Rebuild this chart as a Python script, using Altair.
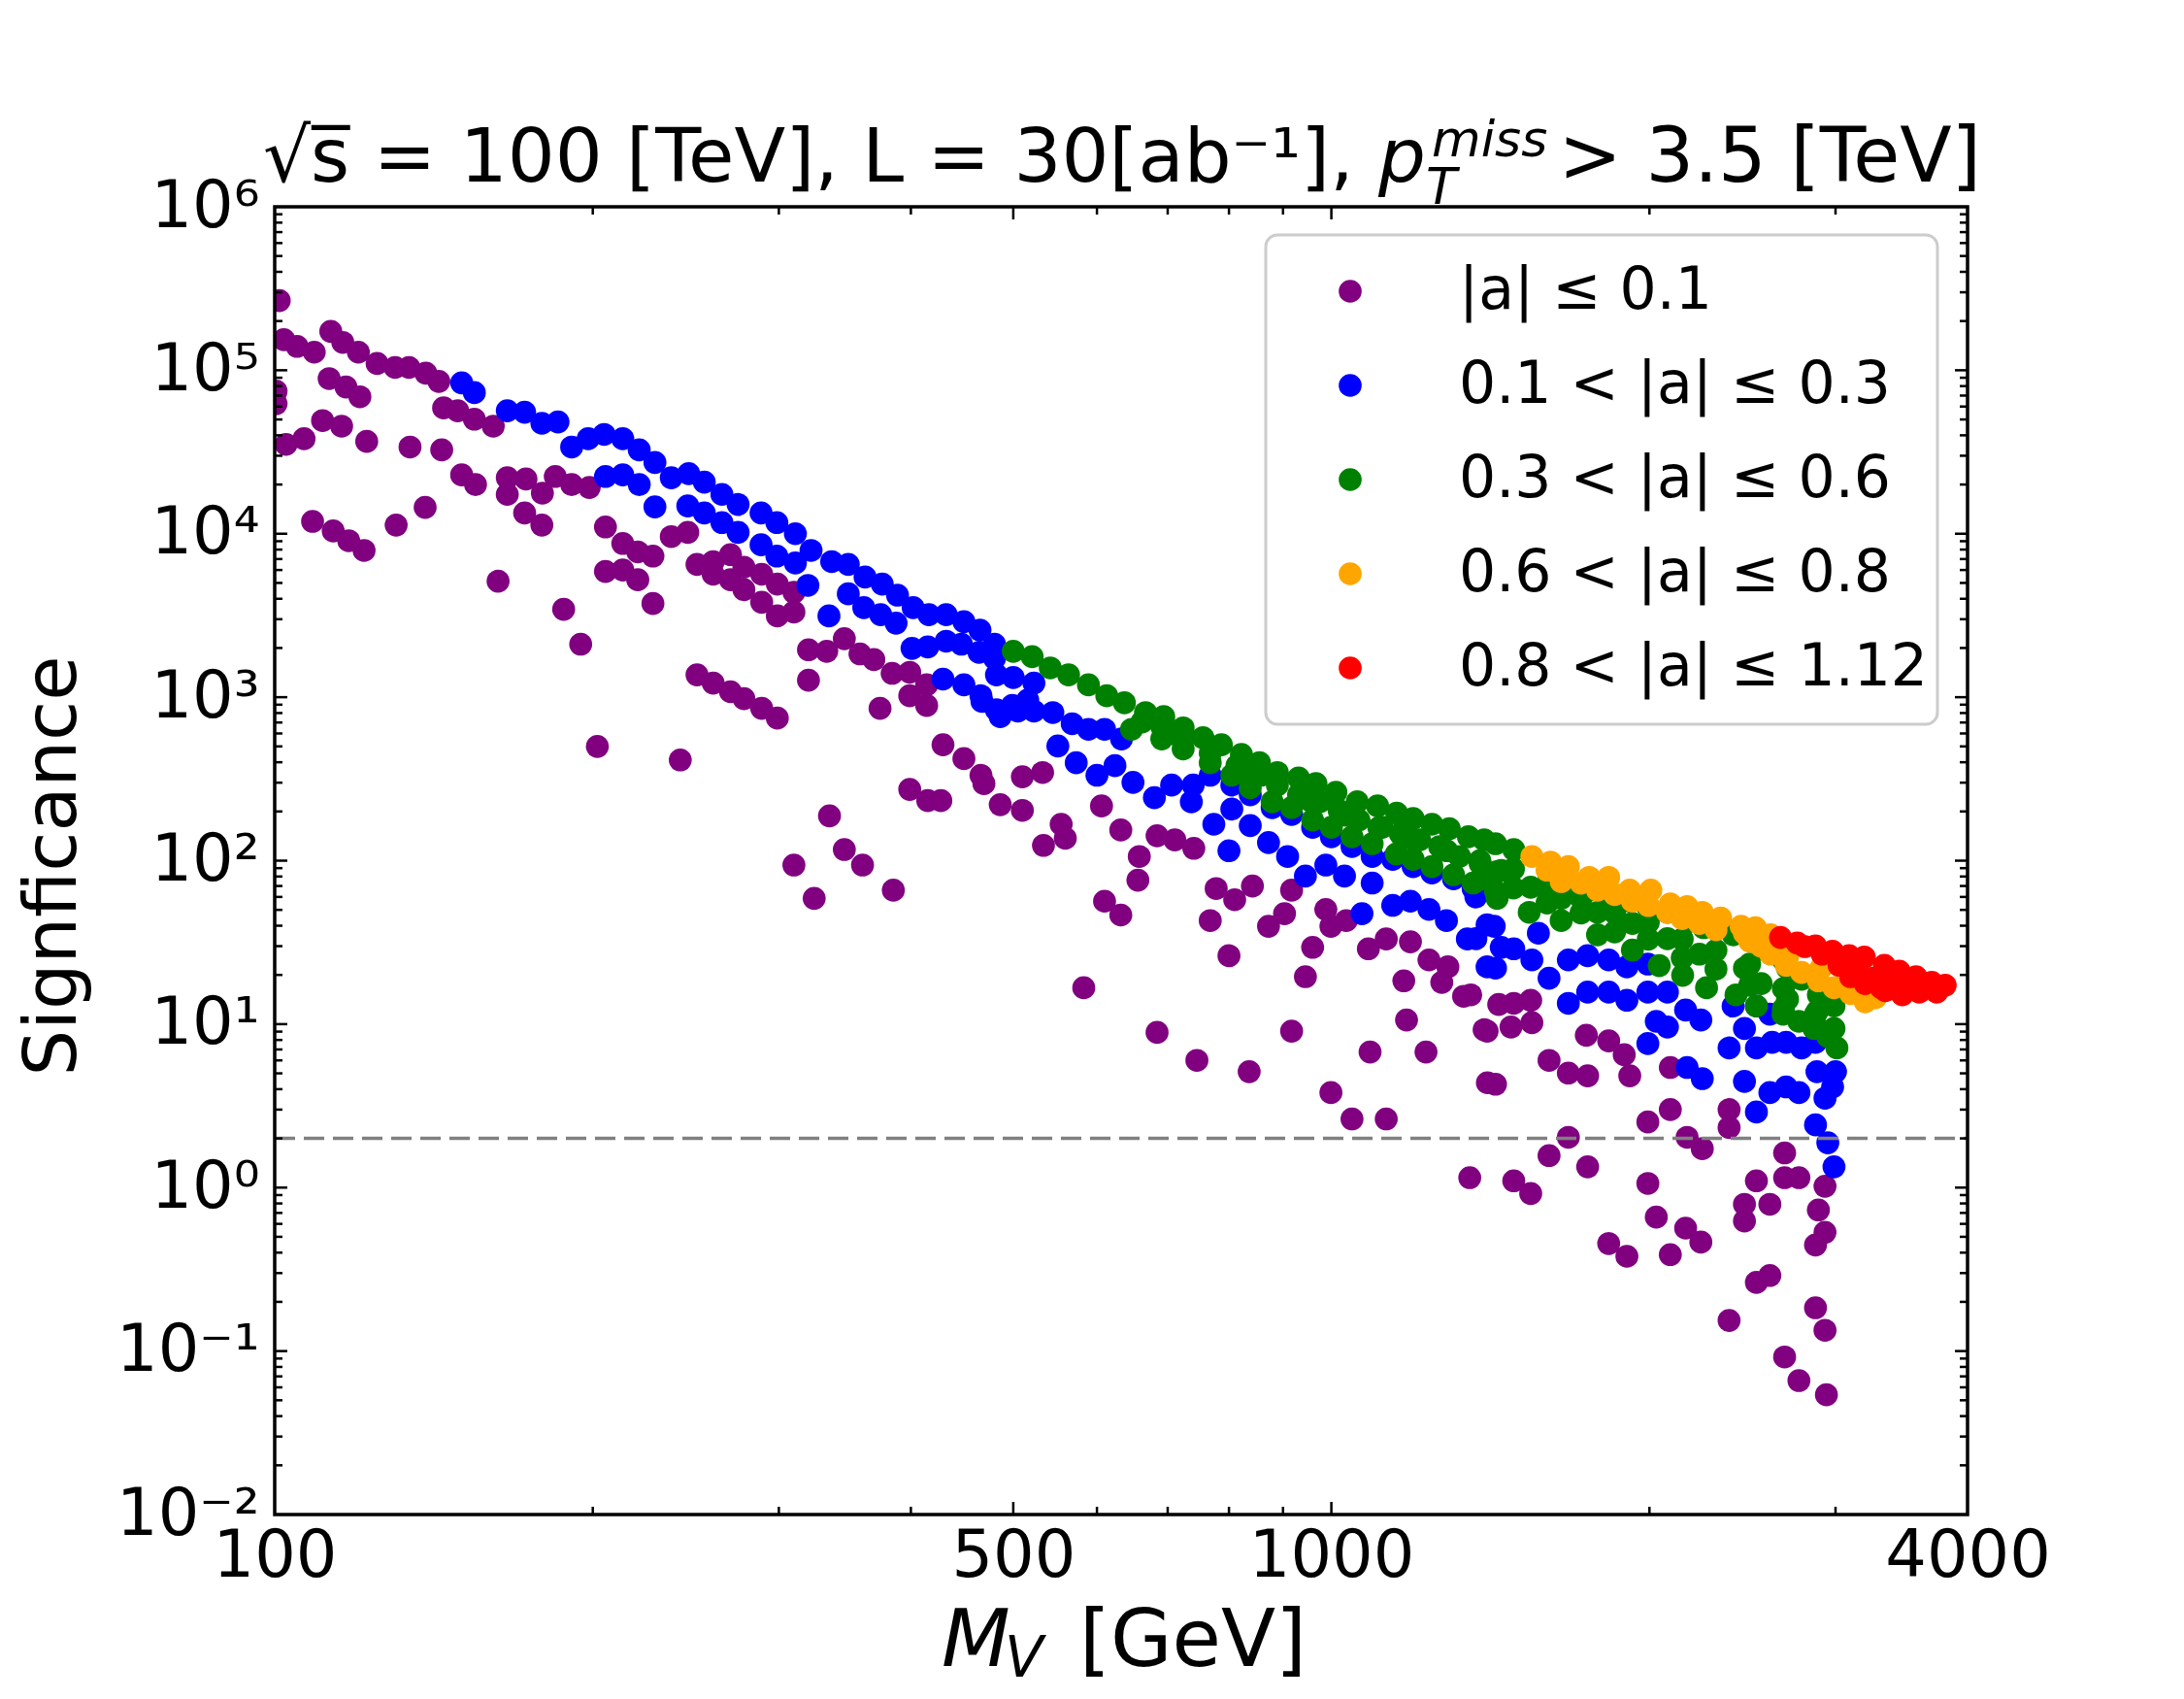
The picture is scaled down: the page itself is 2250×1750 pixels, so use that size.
import altair as alt
import pandas as pd

# ---------------- data ----------------
labels = ["|a| ≤ 0.1", "0.1 < |a| ≤ 0.3", "0.3 < |a| ≤ 0.6", "0.6 < |a| ≤ 0.8", "0.8 < |a| ≤ 1.12"]
colors = ["#800080", "#0000ff", "#008000", "#ffa500", "#ff0000"]

purple_points = [
    (101, 267000), (102, 154000), (105, 140000), (109, 129000), (113, 173000), (116, 148000), (120, 129000),
    (125, 110000), (130, 104000), (134, 104000), (139, 96000), (143, 85500), (144.5, 58800), (149, 56500),
    (154.5, 50200), (161, 45500), (100.3, 74500), (100.3, 62400), (102.5, 35200), (106.6, 38100), (111, 49200),
    (115.7, 45500), (112.6, 88900), (116.8, 79000), (120.4, 68800), (122.2, 36700), (134.3, 33900), (143.9, 32600),
    (150.3, 22900), (154.9, 20000), (166, 22000), (172.9, 21600), (166, 17400), (179.2, 17700), (184.3, 22400),
    (191, 20000), (198.5, 19200), (172.4, 13400), (179, 11300), (108.6, 11900), (113.6, 10400), (117.5, 9060),
    (121.5, 7900), (130.3, 11300), (138.8, 14500), (162.7, 5120), (187.7, 3450), (194.8, 2110), (205.6, 11000),
    (213.5, 8720), (220.6, 7740), (228, 7300), (237.3, 9600), (246, 10200), (205.6, 5880), (213.5, 6000),
    (220.6, 5230), (228, 3740), (251, 6490), (260, 6750), (260, 5650), (270, 7450), (270, 5230), (278, 6240),
    (278, 4550), (289, 5650), (289, 3810), (299, 4920), (299, 3140), (310, 4380), (310, 3320), (320, 1950),
    (333, 1910), (346, 2280), (358, 1840), (369, 1700), (384, 1400), (399, 1420), (399, 1020), (414, 890),
    (414, 1190), (320, 1270), (374, 855), (251, 1370), (260, 1220), (270, 1080), (278, 980), (289, 855),
    (299, 745), (202, 500), (242, 413), (429, 512), (449, 421), (399, 273), (415, 233), (427, 233), (335, 188),
    (346, 117), (360, 94), (310, 94), (324, 58.8), (385, 66), (466, 333), (469, 296), (486, 220), (510, 203),
    (510, 326), (533, 346), (534, 124), (555, 167), (560, 137), (606, 216), (632, 154), (658, 106), (656, 76),
    (684, 142), (711, 134), (741, 119), (610, 56.5), (632, 46.5), (583, 16.7), (778, 67.5), (810, 57.7),
    (842, 70), (768, 43), (800, 26.2), (872, 39.7), (903, 47.4), (917, 66), (960, 29.5), (945, 19.5),
    (988, 50.3), (999, 39.7), (1033, 43), (1084, 28.9), (1127, 33.2), (1188, 31.9), (1237, 24.7), (1289, 22.4),
    (1272, 18), (1334, 14.8), (1171, 18.4), (1178, 10.6), (1229, 6.75), (1088, 6.75), (917, 9.06), (684, 8.9),
    (746, 6.0), (836, 5.12), (999, 3.81), (1046, 2.63), (1127, 2.63), (1405, 4.38), (1395, 9.24), (1440, 13.2),
    (1355, 15.1), (1430, 4.29), (1404, 9.06), (1479, 9.6), (1544, 14.0), (1488, 13.4), (1548, 10.2),
    (1352, 1.15), (1488, 1.10), (1544, 0.92), (1607, 6.0), (1676, 5.02), (1748, 4.83), (1743, 8.55),
    (1830, 7.9), (1893, 6.5), (1916, 4.83), (1607, 1.57), (1676, 2.03), (1748, 1.34), (1993, 2.52),
    (2093, 3.0), (2093, 5.43), (2379, 3.0), (2379, 2.33), (2171, 2.03), (2244, 1.73), (1993, 1.06),
    (2030, 0.66), (1830, 0.455), (1904, 0.38), (2164, 0.565), (2237, 0.464), (2093, 0.389), (2460, 0.79),
    (2460, 0.624), (2525, 1.10), (2600, 0.79), (2685, 1.63), (2685, 1.15), (2770, 1.15), (2932, 1.02),
    (2890, 0.73), (2932, 0.533), (2872, 0.446), (2525, 0.263), (2600, 0.29), (2379, 0.154), (2872, 0.184),
    (2932, 0.134), (2685, 0.092), (2770, 0.066), (2941, 0.054),
]

blue_points = [
    (150.3, 83800), (154.5, 73000), (166, 56500), (172.4, 55400), (179, 47400), (185.4, 48300), (191, 33900),
    (198, 38100), (205, 40500), (213.5, 38100), (221.3, 32600), (229, 27300), (237.3, 22000), (246.5, 23300),
    (255, 20700), (265, 17400), (274.5, 15100), (205.6, 22400), (213.5, 22900), (221.3, 20000), (229, 14600),
    (246, 14800), (255, 13400), (265, 11700), (274.5, 10200), (288.6, 13400), (298.7, 11700), (311, 10000),
    (288.6, 8550), (298.7, 7300), (311, 6620), (321.8, 7900), (336.6, 6750), (349, 6490), (362, 5430),
    (375.8, 4920), (388.5, 4210), (402, 3530), (416, 3200), (432, 3200), (449, 2900), (465, 2570), (480, 2110),
    (319.6, 4830), (334.6, 3140), (349, 4290), (361, 3530), (374.5, 3200), (387.3, 2840), (401, 1990),
    (415, 2030), (432, 2200), (446.6, 2110), (464, 1880), (480, 1730), (429, 1290), (449, 1190), (466, 1020),
    (482, 837), (499, 890), (516, 960), (482, 1370), (500, 1320), (523, 1220), (467, 943), (486, 760),
    (505, 822), (523, 822), (545, 805), (568.5, 688), (589, 636), (610, 636), (633, 555), (551, 503),
    (573.5, 397), (600, 333), (624, 381), (649, 301), (680, 243), (706, 290), (737, 229), (740, 290),
    (774, 167), (805, 207), (800, 115), (838, 164), (872, 129), (909, 106), (945, 80.5), (988, 94),
    (1029, 80.5), (1069, 47.4), (1093, 73), (1143, 53.3), (1188, 56.5), (1237, 50.3), (1285, 43), (1345, 33.2),
    (1404, 22.4), (1404, 40.5), (1448, 29.5), (768, 333), (805, 290), (838, 253), (879, 211), (917, 192),
    (960, 160), (1000, 140), (1046, 122), (1093, 106), (1143, 102), (1195, 92), (1245, 84), (1305, 77.4),
    (1362, 67.5), (1370, 33.3), (1430, 22.0), (1488, 28.9), (1548, 24.7), (1607, 19.1), (1426, 39.7),
    (1370, 60), (1570, 36), (1676, 24.7), (1748, 26.2), (1830, 24.7), (1904, 22.4), (1993, 23.3), (1676, 13.4),
    (1748, 15.7), (1830, 15.7), (1904, 14.0), (1993, 15.7), (2080, 15.7), (2164, 12.2), (2237, 10.6),
    (2030, 10.4), (1993, 7.6), (2080, 9.6), (2379, 7.15), (2460, 9.4), (2525, 7.15), (2613, 7.74), (2694, 7.74),
    (2786, 7.15), (2872, 7.74), (2171, 5.43), (2244, 4.64), (2460, 4.46), (2525, 2.9), (2600, 3.81),
    (2694, 4.13), (2770, 3.81), (2881, 5.12), (3000, 5.12), (2981, 4.13), (2932, 3.52), (2872, 2.42),
    (2950, 1.88), (2990, 1.34), (2400, 12.9), (2525, 12.9), (2600, 11.5),
]

green_points = [
    (500, 1910), (521, 1770), (542, 1510), (564, 1370), (589, 1190), (613, 1020), (637, 924), (667, 805),
    (694, 760), (724, 649), (756, 565), (787, 512), (822, 446), (855, 397), (889, 346), (931, 320), (967, 296),
    (1010, 262), (1058, 229), (1106, 216), (1153, 195), (1195, 181), (1245, 167), (1293, 157), (1348, 140),
    (1395, 134), (1430, 127), (1488, 117), (1607, 80.5), (1676, 73), (1754, 66), (1830, 61.3), (1916, 56.5),
    (1993, 52.3), (2080, 48.3), (2171, 42.1), (2251, 38.9), (2400, 35.2), (2489, 32.6), (2577, 28.4),
    (2676, 24.8), (2702, 22), (2786, 18.8), (2890, 15.1), (2990, 12.9), (647, 636), (691, 555), (724, 483),
    (768, 397), (805, 333), (838, 279), (879, 229), (917, 211), (960, 177), (1000, 160), (1046, 140),
    (1093, 127), (1152, 110), (1195, 102), (1245, 92), (1305, 82), (1362, 73), (1430, 64.9), (1435, 58.8),
    (1539, 48.3), (1650, 43), (1786, 35.2), (1927, 28.4), (2043, 22.8), (2150, 19.9), (2265, 16.7),
    (2415, 15.1), (2525, 12.9), (2676, 11.5), (2769, 10.4), (2862, 9.4), (2950, 8.4), (3009, 7.15),
    (691, 662), (724, 555), (768, 455), (814, 381), (858, 333), (889, 290), (931, 253), (975, 229),
    (1017, 203), (1062, 177), (1117, 160), (1162, 146), (1212, 134), (1266, 122), (1322, 106), (1383, 96),
    (1448, 87), (1435, 85.5), (1544, 68.8), (1650, 58.8), (1786, 48.3), (1927, 41.3), (2080, 33.3),
    (2230, 26.8), (2460, 22), (2551, 17.7), (2702, 14.2), (2872, 11.5), (2990, 9.4),
    (662, 706), (713, 591), (826, 365), (957, 231), (1031, 190), (1109, 159), (1194, 135), (1286, 115),
    (1382, 100), (1382, 76.7), (1487, 88.9), (1487, 68.1), (1600, 68.3), (1600, 55.1), (1723, 58.9),
    (1723, 47.9), (1854, 47.9), (1854, 36.7), (1995, 41.9), (1995, 33.1), (2148, 33.1), (2148, 25.4),
    (2312, 28.3), (2312, 21.7), (2488, 23.3), (2488, 17.3), (2678, 16.5), (2678, 12.4), (2883, 12.0),
    (2883, 9.5),
]

orange_points = [
    (1548, 106), (1612, 98), (1676, 92), (1754, 79), (1830, 79), (1916, 66), (2006, 66), (2093, 54.3),
    (2171, 52.3), (2244, 48.3), (2336, 44.6), (2442, 39.7), (2520, 38.9), (2604, 35.2), (1650, 74.5),
    (1786, 66), (1927, 56.5), (2080, 48.3), (2230, 41.3), (2460, 36), (2551, 30), (2702, 25.7), (2907, 22),
    (3100, 17.7), (3273, 14.5), (2604, 26.8), (2694, 22.9), (2786, 20.7), (2890, 18.4), (2990, 16.7),
    (3100, 15.4), (3200, 13.7), (1600, 87.5), (1723, 72.8), (1854, 62.1), (1995, 53.1), (2148, 44.2),
    (2312, 37.8), (2488, 32.2),
]

red_points = [
    (2661, 33.9), (2760, 31.3), (2872, 30.1), (2980, 27.9), (3090, 26.2), (3194, 25.7), (3337, 22.9),
    (3447, 21.1), (3575, 19.5), (3700, 18), (3750, 16.7), (3810, 17.3), (3100, 19.5), (3200, 17.7),
    (3344, 16), (3470, 15.1), (3600, 15.7), (3740, 15.7), (2806, 29.8), (2914, 26.8), (3023, 22.9),
    (3137, 21.2), (3253, 19.1), (3376, 17.6), (3503, 17.2), (3634, 16.9), (3314, 16.7),
]

threshold = [2]                       # dashed reference line
x_label_ticks = [100, 500, 1000, 4000]
x_major_inner = [500, 1000]
x_minor_ticks = [200, 300, 400, 600, 700, 800, 900, 2000, 3000]
y_major_ticks = [1e-2, 1e-1, 1, 10, 100, 1e3, 1e4, 1e5, 1e6]
y_minor_ticks = [m * d for d in [1e-2, 1e-1, 1, 10, 100, 1e3, 1e4, 1e5] for m in range(2, 10)]

# ---------------- build table ----------------
frames = []
for lab, pts in zip(labels, [purple_points, blue_points, green_points, orange_points, red_points]):
    frames.append(pd.DataFrame({"M": [p[0] for p in pts], "S": [p[1] for p in pts], "cls": lab}))
df = pd.concat(frames, ignore_index=True)
df["order"] = range(len(df))

W, H = 1744, 1347
FONT = "DejaVu Sans"
xscale = alt.Scale(type="log", domain=[100, 4000], nice=False)
yscale = alt.Scale(type="log", domain=[1e-2, 1e6], nice=False)

y_label_expr = ("datum.value > 5e5 ? '10⁶' : datum.value > 5e4 ? '10⁵' : datum.value > 5e3 ? '10⁴' : "
                "datum.value > 500 ? '10³' : datum.value > 50 ? '10²' : datum.value > 5 ? '10¹' : "
                "datum.value > 0.5 ? '10⁰' : datum.value > 0.05 ? '10⁻¹' : '10⁻²'")

xaxis = alt.Axis(values=x_label_ticks, format="d", ticks=False, tickSize=0, domain=False, grid=False,
                 labelFontSize=67, labelPadding=10, labelFlush=False, labelFont=FONT, labelColor="black",
                 title=None)
yaxis = alt.Axis(values=y_major_ticks, labelExpr=y_label_expr, ticks=False, tickSize=0, domain=False,
                 grid=False, labelFontSize=67, labelPadding=16, labelFlush=False, labelFont=FONT,
                 labelColor="black", title=None)

points = alt.Chart(df).mark_circle(size=560, opacity=1, clip=True).encode(
    x=alt.X("M:Q", scale=xscale, axis=xaxis),
    y=alt.Y("S:Q", scale=yscale, axis=yaxis),
    color=alt.Color("cls:N", scale=alt.Scale(domain=labels, range=colors),
                    legend=alt.Legend(title=None, orient="none", legendX=1078, legendY=57, padding=0,
                                      symbolType="circle", symbolSize=560, symbolStrokeWidth=0,
                                      labelFontSize=60, labelFont=FONT, labelColor="black", labelOffset=82,
                                      rowPadding=37, labelLimit=1200)),
    order=alt.Order("order:Q"),
)

line = alt.Chart(pd.DataFrame({"y": threshold})).mark_rule(
    color="#808080", strokeWidth=3.5, strokeDash=[21, 9]
).encode(y=alt.Y("y:Q", scale=yscale, axis=yaxis), x=alt.value(0), x2=alt.value(W))


def xticks(vals, length):
    d = pd.DataFrame({"v": vals})
    base = alt.Chart(d).mark_rule(color="black", strokeWidth=2.5)
    bottom = base.encode(x=alt.X("v:Q", scale=xscale, axis=xaxis), y=alt.value(H), y2=alt.value(H - length))
    top = base.encode(x=alt.X("v:Q", scale=xscale, axis=xaxis), y=alt.value(0), y2=alt.value(length))
    return [bottom, top]


def yticks(vals, length):
    d = pd.DataFrame({"v": vals})
    base = alt.Chart(d).mark_rule(color="black", strokeWidth=2.5)
    left = base.encode(y=alt.Y("v:Q", scale=yscale, axis=yaxis), x=alt.value(0), x2=alt.value(length))
    right = base.encode(y=alt.Y("v:Q", scale=yscale, axis=yaxis), x=alt.value(W), x2=alt.value(W - length))
    return [left, right]


tick_layers = (xticks(x_major_inner, 13) + xticks(x_minor_ticks, 8)
               + yticks(y_major_ticks[1:-1], 13) + yticks(y_minor_ticks, 8))

one = pd.DataFrame({"k": [0]})
legend_box = alt.Chart(one).mark_rect(
    fill="white", fillOpacity=0.8, stroke="#cccccc", strokeWidth=3, cornerRadius=12
).encode(x=alt.value(1021), x2=alt.value(1713), y=alt.value(29), y2=alt.value(533))

frame = alt.Chart(one).mark_rect(
    fill="white", fillOpacity=0, stroke="black", strokeWidth=3.5
).encode(x=alt.value(0), x2=alt.value(W), y=alt.value(0), y2=alt.value(H))


def txt(s, x, y, size, align="left", style="normal", baseline="alphabetic", angle=0):
    return alt.Chart(one).mark_text(
        text=s, align=align, baseline=baseline, fontSize=size, font=FONT, fontStyle=style,
        color="black", angle=angle
    ).encode(x=alt.value(x), y=alt.value(y))


texts = [
    txt("√s̅ = 100 [TeV], L = 30[ab⁻¹],", -12, -26, 77),
    txt("p", 1137, -26, 77, style="italic"),
    txt("miss", 1192, -52, 52, style="italic"),
    txt("T", 1186, -3, 52, style="italic"),
    txt("> 3.5 [TeV]", 1758, -26, 78, align="right"),
    txt("M", 687, 1503, 82, style="italic"),
    txt("V", 752, 1514, 58, style="italic"),
    txt("[GeV]", 829, 1503, 82),
    txt("Signficance", -228, 679, 75, align="center", baseline="middle", angle=270),
]

chart = alt.layer(points, line, *tick_layers, legend_box, frame, *texts).properties(
    width=W, height=H,
    padding={"left": 275, "top": 205, "right": 215, "bottom": 190},
    autosize=alt.AutoSizeParams(type="none"),
).configure_view(strokeWidth=0).configure(background="white")

chart.save("out.html", embed_options={"renderer": "svg", "actions": False})
